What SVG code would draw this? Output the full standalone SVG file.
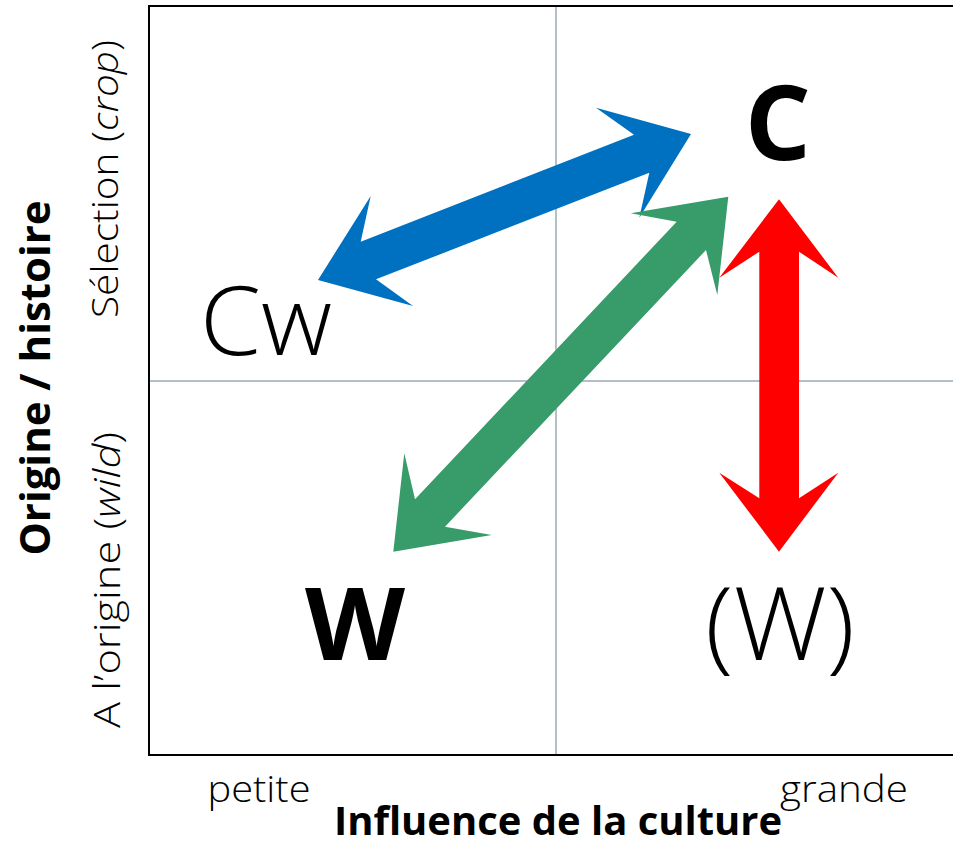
<svg xmlns="http://www.w3.org/2000/svg" width="953" height="846" viewBox="0 0 953 846">
<style>
.ax{font-family:"Open Sans","Noto Sans","Liberation Sans",sans-serif;fill:#000}
.lt{font-weight:300}
.bd{font-weight:700}
.grid{stroke:#9DAAB9;stroke-width:1.5;fill:none}
.frame{stroke:#000;stroke-width:2;fill:none}
</style>
<rect width="953" height="846" fill="#fff"/>
<g id="frame">
<line class="grid" x1="556" y1="6" x2="556" y2="755"/>
<line class="grid" x1="149" y1="381" x2="953" y2="381"/>
<polyline class="frame" points="953,6 149,6 149,755 953,755"/>
</g>
<g id="axis-labels">
<text class="ax lt" x="259" y="802" font-size="37" text-anchor="middle" textLength="103" lengthAdjust="spacingAndGlyphs">petite</text>
<text class="ax lt" x="844" y="802" font-size="37" text-anchor="middle" textLength="128" lengthAdjust="spacingAndGlyphs">grande</text>
<text class="ax bd" x="558" y="835" font-size="40" text-anchor="middle" textLength="448" lengthAdjust="spacingAndGlyphs">Influence de la culture</text>
<text class="ax bd" transform="translate(50,378) rotate(-90)" font-size="42" text-anchor="middle" textLength="355" lengthAdjust="spacingAndGlyphs">Origine / histoire</text>
<text class="ax lt" transform="translate(118,179) rotate(-90)" font-size="37" text-anchor="middle" textLength="278" lengthAdjust="spacingAndGlyphs">Sélection (<tspan font-style="italic">crop</tspan>)</text>
<text class="ax lt" transform="translate(120,580) rotate(-90)" font-size="37" text-anchor="middle" textLength="296" lengthAdjust="spacingAndGlyphs">A l’origine (<tspan font-style="italic">wild</tspan>)</text>
</g>
<g id="node-C"><text class="ax bd" x="778" y="160" font-size="104" text-anchor="middle">C</text></g>
<g id="node-Cw"><text class="ax lt" x="266" y="355" font-size="96" text-anchor="middle" textLength="132" lengthAdjust="spacingAndGlyphs">Cw</text></g>
<g id="node-W"><text class="ax bd" x="355" y="660" font-size="101" text-anchor="middle" textLength="100" lengthAdjust="spacingAndGlyphs">W</text></g>
<g id="node-W-paren"><text class="ax lt" x="780" y="660" font-size="101" text-anchor="middle" textLength="150" lengthAdjust="spacingAndGlyphs">(W)</text></g>
<g id="connectors">
<polygon fill="#0070C0" points="318,280 370.7,196 360.7,241.7 634,134.7 596,107.7 691,134 639.3,217.7 649.3,172.7 376,279.3 413,306"/>
<polygon fill="#379B6A" points="728.3,196.7 630.7,213.3 676.7,221.7 415,499.3 404.3,453.3 393.3,551.7 491.7,535 445,526.7 706,250 717.3,295"/>
<polygon fill="#FF0000" points="779,199.3 719.3,277.7 759.3,251.7 759.3,498.3 719.3,472.7 779,551.7 838.3,472.7 799,498.3 799,251.7 838.3,277.7"/>
</g>
</svg>
